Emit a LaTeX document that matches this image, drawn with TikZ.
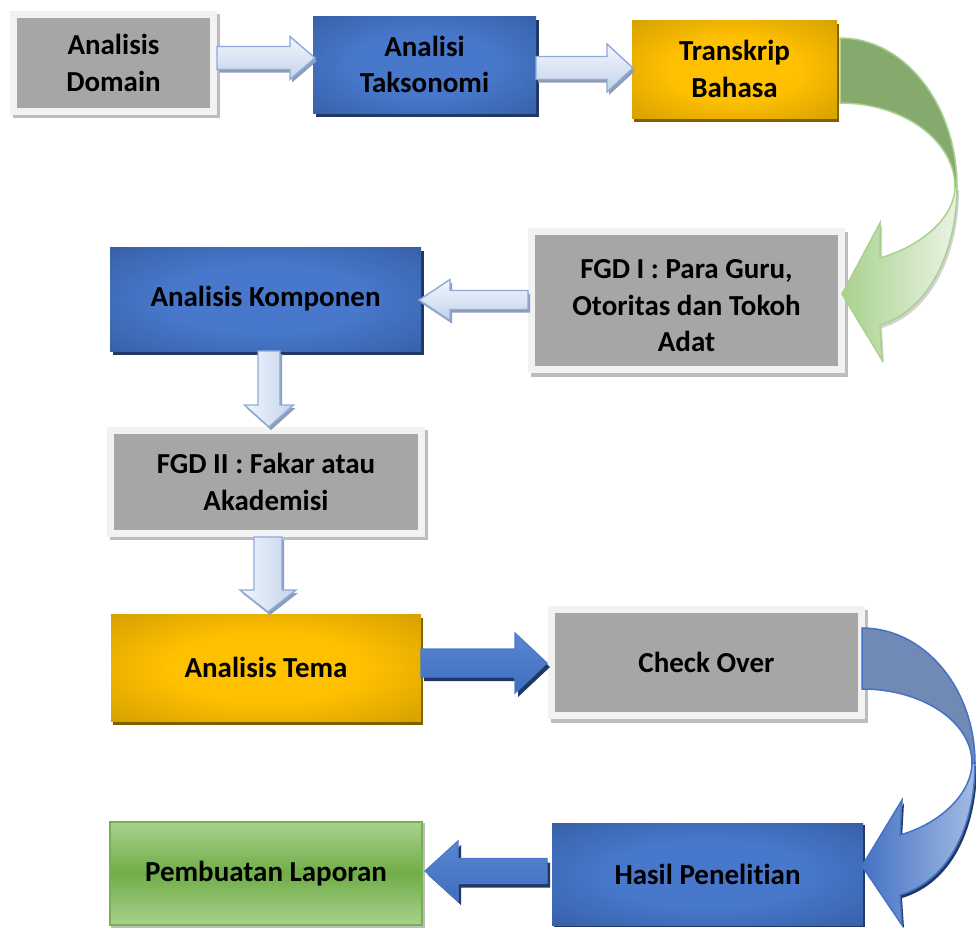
\documentclass[tikz,border=0pt]{standalone}
\usepackage{fontspec}
\setmainfont{Carlito}[Ligatures=NoCommon]
\usetikzlibrary{calc,backgrounds}

% palette
\definecolor{boxgray}{HTML}{A6A6A6}
\definecolor{framegray}{HTML}{F2F2F2}
\definecolor{grayshade}{HTML}{BDBDBD}
\definecolor{bluein}{HTML}{4878CB}
\definecolor{blueout}{HTML}{2E5395}
\definecolor{blueshade}{HTML}{1F3864}
\definecolor{goldin}{HTML}{FFC000}
\definecolor{goldout}{HTML}{BF9000}
\definecolor{goldshade}{HTML}{7F6000}
\definecolor{greenlight}{HTML}{A9D18E}
\definecolor{greenmid}{HTML}{70AD47}
\definecolor{greenedge}{HTML}{78B050}
\definecolor{greenback}{HTML}{86A96E}
\definecolor{greenpale}{HTML}{EAF3E4}
\definecolor{lighttop}{HTML}{F3F6FC}
\definecolor{lightbottom}{HTML}{C2D3EC}
\definecolor{lightedge}{HTML}{8EAADB}
\definecolor{lightshadow}{HTML}{8E9DB6}
\definecolor{darktop}{HTML}{5A87D2}
\definecolor{darkbottom}{HTML}{3F6DBF}
\definecolor{darkedge}{HTML}{4A7ACB}
\definecolor{blueback}{HTML}{7089B5}
\definecolor{bluefront}{HTML}{4472C4}
\definecolor{bluepale}{HTML}{A3BBE3}

% soft glow from the centre of the coloured boxes
\pgfdeclareradialshading{blueglow}{\pgfpoint{0bp}{0bp}}{color(0bp)=(bluein); color(16bp)=(bluein); color(46bp)=(blueout); color(50bp)=(blueout)}
\pgfdeclareradialshading{goldglow}{\pgfpoint{0bp}{0bp}}{color(0bp)=(goldin); color(16bp)=(goldin); color(46bp)=(goldout); color(50bp)=(goldout)}

\tikzset{
  boxtext/.style={font=\fontsize{29}{36.5}\selectfont\bfseries, align=center, text=black, inner sep=0pt},
  graybox/.style={boxtext, fill=boxgray, draw=framegray, line width=7pt, outer sep=3.5pt},
  bluebox/.style={boxtext, shade, shading=blueglow, outer sep=0pt},
  goldbox/.style={boxtext, shade, shading=goldglow, outer sep=0pt},
  greenbox/.style={boxtext, top color=greenlight, bottom color=greenlight, middle color=greenmid, draw=greenedge, line width=1.5pt, outer sep=0.75pt},
  light arrow/.style={draw=lightedge, line width=1.4pt, line join=miter},
  light arrow shadow/.style={fill=lightshadow, transform canvas={shift={(2pt,-3pt)}}},
  dark arrow/.style={draw=darkedge, line width=1.2pt, line join=miter, top color=darktop, bottom color=darkbottom},
  dark arrow shadow/.style={fill=blueshade, transform canvas={shift={(3pt,-4pt)}}},
}

% block arrow: #1 kind, #2 extra options, #3 start, #4 tip,
% #5 half shaft width, #6 half head width, #7 head length
\newcommand\blockarrow[7]{%
  \coordinate (ba-s) at #3;
  \coordinate (ba-t) at #4;
  \coordinate (ba-h) at ($(ba-t)!#7!(ba-s)$);
  \coordinate (ba-1) at ($(ba-s)!#5!90:(ba-t)$);
  \coordinate (ba-2) at ($(ba-h)!#5!90:(ba-t)$);
  \coordinate (ba-3) at ($(ba-h)!#6!90:(ba-t)$);
  \coordinate (ba-4) at ($(ba-h)!#6!-90:(ba-t)$);
  \coordinate (ba-5) at ($(ba-h)!#5!-90:(ba-t)$);
  \coordinate (ba-6) at ($(ba-s)!#5!-90:(ba-t)$);
  \fill[#1 arrow shadow] (ba-1) -- (ba-2) -- (ba-3) -- (ba-t) -- (ba-4) -- (ba-5) -- (ba-6) -- cycle;
  \draw[#1 arrow, #2] (ba-1) -- (ba-2) -- (ba-3) -- (ba-t) -- (ba-4) -- (ba-5) -- (ba-6) -- cycle;
}
\newcommand\boxshadow[4]{%
  \fill[#1] ($(#2.south west)+(#3,#4)$) rectangle ($(#2.north east)+(#3,#4)$);
}

\begin{document}
\begin{tikzpicture}[x=1pt, y=-1pt]
  \useasboundingbox (0,0) rectangle (976,927);
  \begin{scope}[on background layer]
    \fill[white] (0,0) rectangle (976,927);
  \end{scope}

  % process steps
  \node[graybox, minimum width=200pt, minimum height=97pt] (dom) at (113.5,63) {Analisis\\Domain};
  \node[bluebox, minimum width=223pt, minimum height=97pt] (tak) at (424.5,64.5) {Analisi\\Taksonomi};
  \node[goldbox, minimum width=205pt, minimum height=98pt] (tra) at (734.5,69) {Transkrip\\Bahasa};
  \node[graybox, minimum width=310pt, minimum height=138pt] (fgd1) at (686.5,300.5) {\\[-7pt]FGD I : Para Guru,\\Otoritas dan Tokoh\\Adat};
  \node[bluebox, minimum width=311pt, minimum height=104pt] (kom) at (265.5,299) {Analisis Komponen};
  \node[graybox, minimum width=311pt, minimum height=103pt] (fgd2) at (266,482) {FGD II : Fakar atau\\Akademisi};
  \node[goldbox, minimum width=310pt, minimum height=107pt] (tem) at (266,667.5) {Analisis Tema};
  \node[graybox, minimum width=310pt, minimum height=106pt] (chk) at (706.5,662.5) {Check Over};
  \node[bluebox, minimum width=311pt, minimum height=102pt] (has) at (707.5,874) {Hasil Penelitian};
  \node[greenbox, minimum width=312pt, minimum height=103pt] (lap) at (266,873.5) {Pembuatan Laporan};

  % box shadows
  \begin{scope}[on background layer]
    \boxshadow{grayshade}{dom}{3}{3}
    \boxshadow{blueshade}{tak}{3}{4}
    \boxshadow{goldshade}{tra}{2}{4}
    \boxshadow{grayshade}{fgd1}{3}{4}
    \boxshadow{blueshade}{kom}{3}{4}
    \boxshadow{grayshade}{fgd2}{3}{3}
    \boxshadow{goldshade}{tem}{2}{4}
    \boxshadow{grayshade}{chk}{3}{4}
    \boxshadow{blueshade}{has}{2}{2}
    \boxshadow{grayshade}{lap}{2}{2}
  \end{scope}

  % straight block arrows
  \blockarrow{light}{top color=lighttop, bottom color=lightbottom}{($(dom.east)+(0,-5)$)}{($(tak.west)+(2,-6.5)$)}{11.5pt}{21.5pt}{25pt}
  \blockarrow{light}{top color=lighttop, bottom color=lightbottom}{($(tak.east)+(0,3.5)$)}{($(tra.west)+(1,-1)$)}{11.5pt}{24pt}{26pt}
  \blockarrow{light}{top color=lighttop, bottom color=lightbottom}{($(fgd1.west)+(0,-0.5)$)}{($(kom.east)+(-2,1)$)}{9.5pt}{20.5pt}{31pt}
  \blockarrow{light}{left color=lighttop, right color=lightbottom}{($(kom.south)+(3.5,0)$)}{($(fgd2.north)+(3,0)$)}{11pt}{24.5pt}{22pt}
  \blockarrow{light}{left color=lighttop, right color=lightbottom}{($(fgd2.south)+(2,0)$)}{($(tem.north)+(2,-2)$)}{14pt}{28pt}{22pt}
  \blockarrow{dark}{}{($(tem.east)+(0,-4.5)$)}{($(chk.west)+(-1,0.5)$)}{14pt}{30pt}{32pt}
  \blockarrow{dark}{}{($(has.west)+(-5,-3)$)}{($(lap.east)+(2.25,-2.5)$)}{12.5pt}{30pt}{33pt}

  % curved arrow from Transkrip Bahasa down to FGD I
  \begin{scope}[shift={(tra.east)}]
    \fill[gray, opacity=0.35, transform canvas={shift={(2pt,-3pt)}}]
      (118,118) .. controls (118,146) and (88,176) .. (43,189) -- (43,154) -- (5,225)
      -- (45,291) -- (43,256) .. controls (93,241) and (120,181) .. (120,118) -- cycle;
    \draw[fill=greenback, draw=greenlight, line width=1.5pt, line join=round]
      (3,-31) .. controls (67.6,-31) and (120,35.8) .. (120,118) -- (118,118)
      .. controls (118,71.6) and (66.5,34) .. (3,34) -- cycle;
    \draw[left color=greenlight, right color=greenpale, draw=greenlight, line width=1.5pt, line join=miter]
      (118,118) .. controls (118,146) and (88,176) .. (43,189) -- (43,154) -- (5,225)
      -- (45,291) -- (43,256) .. controls (93,241) and (120,181) .. (120,118) -- cycle;
  \end{scope}

  % curved arrow from Check Over down to Hasil Penelitian
  \begin{scope}[shift={(chk.east)}]
    \fill[blueshade, transform canvas={shift={(2pt,-3pt)}}]
      (107,100.5) .. controls (107,127.5) and (80,159.5) .. (35,172.5) -- (37,137.5) -- (-3,203.5)
      -- (37,262.5) -- (35,232.5) .. controls (85,217.5) and (110,162.5) .. (110,100.5) -- cycle;
    \draw[fill=blueback, draw=bluefront, line width=1.5pt, line join=round]
      (-3,-34.5) .. controls (59.4,-34.5) and (110,26) .. (110,100.5) -- (107,100.5)
      .. controls (107,59.6) and (57.7,26.5) .. (-3,26.5) -- cycle;
    \draw[left color=bluefront, right color=bluepale, draw=bluefront, line width=1.5pt, line join=miter]
      (107,100.5) .. controls (107,127.5) and (80,159.5) .. (35,172.5) -- (37,137.5) -- (-3,203.5)
      -- (37,262.5) -- (35,232.5) .. controls (85,217.5) and (110,162.5) .. (110,100.5) -- cycle;
  \end{scope}
\end{tikzpicture}
\end{document}
